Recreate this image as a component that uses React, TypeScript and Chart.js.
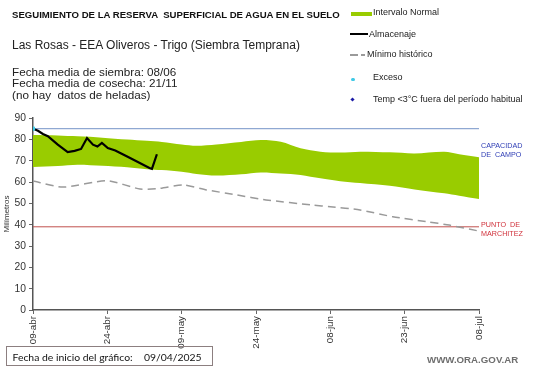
import React, { useEffect, useRef } from "react";
import { Chart, registerables } from "chart.js";

Chart.register(...registerables);

// ---- data ----
const xTickDays = [0, 15, 30, 45, 60, 75, 90];
const xTickLabels = ["09-abr", "24-abr", "09-may", "24-may", "08-jun", "23-jun", "08-jul"];

const almacenajeDays = [0, 1, 2, 3, 5, 7, 8.4, 9.7, 10.9, 12.1, 13, 13.9, 15.1, 16.6, 19.2, 23.5, 24, 25];
const almacenajeValues = [85, 84, 82.5, 81.5, 77.5, 74, 74.6, 75.5, 80.6, 77.5, 76.6, 78.3, 75.9, 74.8, 71.7, 66.6, 66.2, 73];

const bandDays = [0, 5, 9, 14, 19, 23, 26, 30, 33, 37, 42, 46, 50, 54, 58, 62, 66, 72, 77, 83, 86, 90];
const bandUpper = [82, 81.8, 81.4, 80.8, 79.9, 79.3, 78.8, 77.6, 77, 77.6, 78.8, 79.7, 78.9, 75.8, 74.2, 73.8, 74.2, 73.9, 73.4, 74.2, 73, 71.6];
const bandLower = [67, 67.5, 68.1, 67.6, 66.9, 66, 65.6, 64.8, 63.8, 63, 63.6, 64.5, 64, 63.3, 61.7, 60.4, 59.5, 58.2, 56.5, 54.7, 53.6, 52];

const minimoDays = [0, 6, 15, 21.6, 25.6, 30.3, 35, 41, 47, 56.5, 60, 66, 72.6, 79.5, 84, 90];
const minimoValues = [60.5, 57.6, 60.6, 56.7, 57, 58.6, 56.3, 54, 51.6, 49.2, 48.4, 46.9, 43.7, 41.4, 39.8, 37];

const excesoDays = [0];
const excesoValues = [85];

const capacidadCampo = 85;
const puntoMarchitez = 39;
const rangeDays = [0, 90];

const zip = (xs: number[], ys: number[]) => xs.map((x, i) => ({ x, y: ys[i] }));

const FONT = "'Liberation Sans', Arial, sans-serif";

export default function App() {
  const ref = useRef<HTMLCanvasElement | null>(null);

  useEffect(() => {
    if (!ref.current) return;
    const chart = new Chart(ref.current, {
      type: "line",
      data: {
        datasets: [
          {
            label: "Exceso",
            data: zip(excesoDays, excesoValues),
            showLine: false,
            pointRadius: 2.3,
            pointBackgroundColor: "#3ec9e6",
            pointBorderWidth: 0,
            order: 0,
          },
          {
            label: "Almacenaje",
            data: zip(almacenajeDays, almacenajeValues),
            borderColor: "#000000",
            borderWidth: 2.2,
            pointRadius: 0,
            tension: 0,
            fill: false,
            order: 1,
          },
          {
            label: "Mínimo histórico",
            data: zip(minimoDays, minimoValues),
            borderColor: "#9a9a9a",
            borderWidth: 1.5,
            borderDash: [8, 5],
            pointRadius: 0,
            tension: 0.2,
            fill: false,
            order: 2,
          },
          {
            label: "Capacidad de campo",
            data: rangeDays.map((x) => ({ x, y: capacidadCampo })),
            borderColor: "#8fa8d2",
            borderWidth: 1.2,
            pointRadius: 0,
            fill: false,
            order: 3,
          },
          {
            label: "Punto de marchitez",
            data: rangeDays.map((x) => ({ x, y: puntoMarchitez })),
            borderColor: "#c0504d",
            borderWidth: 1,
            pointRadius: 0,
            fill: false,
            order: 3,
          },
          {
            label: "upper",
            data: zip(bandDays, bandUpper),
            borderWidth: 0,
            borderColor: "rgba(0,0,0,0)",
            pointRadius: 0,
            tension: 0.3,
            fill: false,
            order: 5,
          },
          {
            label: "Intervalo Normal",
            data: zip(bandDays, bandLower),
            borderWidth: 0,
            borderColor: "rgba(0,0,0,0)",
            backgroundColor: "#99cc00",
            pointRadius: 0,
            tension: 0.3,
            fill: 5,
            order: 5,
          },
        ],
      },
      options: {
        responsive: false,
        animation: false,
        devicePixelRatio: 1,
        layout: { padding: { left: 0, right: 62, top: 118, bottom: 0 } },
        plugins: {
          legend: { display: false },
          tooltip: { enabled: false },
        },
        scales: {
          x: {
            type: "linear",
            min: 0,
            max: 90,
            afterBuildTicks: (scale: any) => {
              scale.ticks = xTickDays.map((v) => ({ value: v }));
            },
            afterFit: (scale: any) => {
              scale.height = 58;
              scale.paddingLeft = 0;
              scale.paddingRight = 0;
            },
            ticks: {
              autoSkip: false,
              minRotation: 90,
              maxRotation: 90,
              padding: 2,
              color: "#333",
              font: { family: FONT, size: 9.8 },
              callback: (v: any) => {
                const i = xTickDays.indexOf(Number(v));
                return i >= 0 ? xTickLabels[i] : "";
              },
            },
            grid: { drawOnChartArea: false, drawTicks: true, tickLength: 4, color: "#666" },
            border: { display: true, color: "#555", width: 1.5 },
          },
          y: {
            min: 0,
            max: 90,
            afterFit: (scale: any) => {
              scale.width = 33;
            },
            ticks: {
              stepSize: 10,
              padding: 3,
              color: "#333",
              font: { family: FONT, size: 10.3 },
            },
            grid: { drawOnChartArea: false, drawTicks: true, tickLength: 4, color: "#666" },
            border: { display: true, color: "#555", width: 1.5 },
            title: {
              display: true,
              text: "Milímetros",
              color: "#333",
              font: { family: FONT, size: 8 },
              padding: { top: 2, bottom: 0 },
            },
          },
        },
      },
    } as any);
    return () => chart.destroy();
  }, []);

  const abs = (left: number, top: number, extra: React.CSSProperties = {}): React.CSSProperties => ({
    position: "absolute",
    left,
    top,
    whiteSpace: "pre",
    fontFamily: FONT,
    ...extra,
  });

  const boxFont = "Lato, 'Open Sans', sans-serif";

  return (
    <div style={{ position: "absolute", left: 0, top: 0, width: 541, height: 368, background: "#fff", overflow: "hidden" }}>
      <canvas ref={ref} width={541} height={368} style={{ display: "block", position: "absolute", left: 0, top: 0 }} />

      <div style={abs(12, 9, { fontSize: 9.6, fontWeight: "bold", lineHeight: "12px", color: "#111" })}>
        SEGUIMIENTO DE LA RESERVA  SUPERFICIAL DE AGUA EN EL SUELO
      </div>
      <div style={abs(12, 38, { fontSize: 12, lineHeight: "14px", color: "#222" })}>
        Las Rosas - EEA Oliveros - Trigo (Siembra Temprana)
      </div>
      <div style={abs(12, 65.5, { fontSize: 11.7, lineHeight: "11.8px", color: "#222" })}>
        {"Fecha media de siembra: 08/06\nFecha media de cosecha: 21/11\n(no hay  datos de heladas)"}
      </div>

      {/* legend */}
      <div style={{ position: "absolute", left: 351, top: 11.5, width: 21, height: 4, background: "#99cc00" }} />
      <div style={abs(373, 7, { fontSize: 9, lineHeight: "11px", color: "#222" })}>Intervalo Normal</div>
      <div style={{ position: "absolute", left: 350, top: 33, width: 18, height: 2, background: "#000" }} />
      <div style={abs(369, 28.5, { fontSize: 9, lineHeight: "11px", color: "#222" })}>Almacenaje</div>
      <div style={{ position: "absolute", left: 350, top: 54, width: 8, height: 1.5, background: "#9a9a9a" }} />
      <div style={{ position: "absolute", left: 361, top: 54, width: 3.5, height: 1.5, background: "#9a9a9a" }} />
      <div style={abs(367, 48.5, { fontSize: 9, lineHeight: "11px", color: "#222" })}>Mínimo histórico</div>
      <div style={{ position: "absolute", left: 351, top: 77.5, width: 3.5, height: 3.5, borderRadius: "50%", background: "#3ec9e6" }} />
      <div style={abs(373, 72, { fontSize: 9, lineHeight: "11px", color: "#222" })}>Exceso</div>
      <div style={{ position: "absolute", left: 350.8, top: 97.5, width: 3, height: 3, background: "#1b1ba6", transform: "rotate(45deg)" }} />
      <div style={abs(373, 93.5, { fontSize: 9, lineHeight: "11px", color: "#222" })}>Temp &lt;3°C fuera del período habitual</div>

      {/* right-hand line labels */}
      <div style={abs(481, 140.5, { fontSize: 7.2, lineHeight: "9px", color: "#2e3db5" })}>{"CAPACIDAD\nDE  CAMPO"}</div>
      <div style={abs(481, 219.8, { fontSize: 7.2, lineHeight: "9px", color: "#d0313b" })}>{"PUNTO  DE\nMARCHITEZ"}</div>

      {/* bottom */}
      <div
        style={{
          position: "absolute",
          left: 6,
          top: 346,
          width: 207,
          height: 20,
          border: "1px solid #8c7f80",
          boxSizing: "border-box",
        }}
      />
      <div style={abs(12.5, 350, { fontFamily: boxFont, fontSize: 10.4, lineHeight: "14px", color: "#111" })}>
        Fecha de inicio del gráfico:
      </div>
      <div style={abs(144, 350, { fontFamily: boxFont, fontSize: 10.4, lineHeight: "14px", color: "#111" })}>
        09/04/2025
      </div>
      <div style={abs(427, 354, { fontSize: 9.7, fontWeight: "bold", lineHeight: "12px", color: "#6e6e6e" })}>WWW.ORA.GOV.AR</div>
    </div>
  );
}
